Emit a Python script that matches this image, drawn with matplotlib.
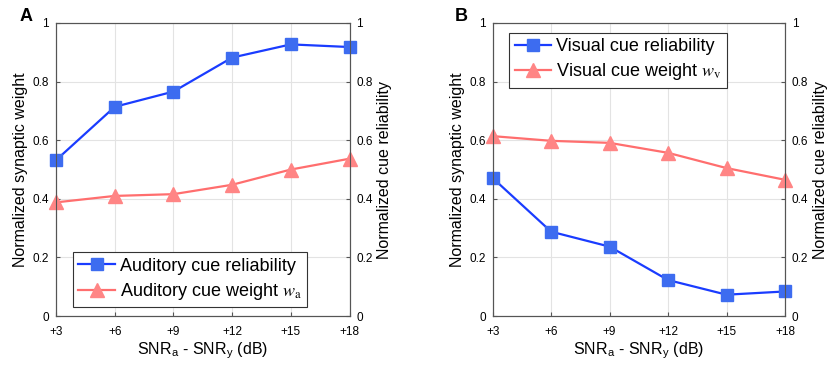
import numpy as np
import matplotlib
matplotlib.use("Agg")
import matplotlib.pyplot as plt

plt.rcParams['font.family'] = ['Liberation Sans', 'DejaVu Sans']
plt.rcParams['mathtext.fontset'] = 'stix'

snr_diff = [3, 6, 9, 12, 15, 18]
tick_labels = ['+3', '+6', '+9', '+12', '+15', '+18']

aud_reliability = [0.532, 0.714, 0.766, 0.882, 0.927, 0.918]
aud_weight = [0.388, 0.410, 0.416, 0.448, 0.500, 0.537]

vis_reliability = [0.471, 0.288, 0.237, 0.123, 0.073, 0.084]
vis_weight = [0.614, 0.598, 0.591, 0.557, 0.505, 0.465]

blue_line = '#1a3cff'
blue_face = '#3d6cf0'
red_line = '#ff6e6e'
red_face = '#ff8585'
spine_col = '#555555'

fig = plt.figure(figsize=(8.29, 3.65), dpi=100)


def panel(rect, rel, wt, rel_label, wt_label, legend_loc, letter, letter_x):
    ax = fig.add_axes(rect)
    ax.plot(snr_diff, rel, '-s', color=blue_line, lw=1.6, ms=9,
            mfc=blue_face, mec=blue_face, label=rel_label, clip_on=False, zorder=3)
    ax.plot(snr_diff, wt, '-^', color=red_line, lw=1.6, ms=10,
            mfc=red_face, mec=red_face, label=wt_label, clip_on=False, zorder=3)
    ax.set_xlim(3, 18)
    ax.set_ylim(0, 1)
    ax.set_xticks(snr_diff)
    ax.set_xticklabels(tick_labels)
    ax.set_yticks([0, 0.2, 0.4, 0.6, 0.8, 1])
    ax.set_yticklabels(['0', '0.2', '0.4', '0.6', '0.8', '1'])
    ax.grid(True, color='#e3e3e3', lw=0.8)
    ax.set_axisbelow(True)
    ax.tick_params(direction='in', labelsize=8.5, length=3, color=spine_col)
    ax.tick_params(axis='x', pad=7)
    ax.tick_params(axis='y', pad=5)
    for s in ax.spines.values():
        s.set_color(spine_col)
    ax.set_ylabel('Normalized synaptic weight', fontsize=11.5, labelpad=3)
    ax.set_xlabel(r'SNR$_\mathregular{a}$ - SNR$_\mathregular{y}$ (dB)', fontsize=11.5, labelpad=2)

    ax2 = ax.twinx()
    ax2.set_ylim(0, 1)
    ax2.set_yticks([0, 0.2, 0.4, 0.6, 0.8, 1])
    ax2.set_yticklabels(['0', '0.2', '0.4', '0.6', '0.8', '1'])
    ax2.tick_params(direction='in', labelsize=8.5, length=3, color=spine_col, pad=5)
    for s in ax2.spines.values():
        s.set_color(spine_col)
    ax2.set_ylabel('Normalized cue reliability', fontsize=11.5, labelpad=3)

    leg = ax.legend(loc=legend_loc, fontsize=13, fancybox=False, framealpha=1,
                    edgecolor='#333333', handlelength=2.0, handletextpad=0.3,
                    borderaxespad=0.0, labelspacing=0.35, borderpad=0.3)
    leg.get_frame().set_linewidth(0.8)
    leg.set_zorder(5)
    fig.text(letter_x, 0.955, letter, fontsize=13, fontweight='bold', va='center')
    return ax, leg


axA, legA = panel([0.0676, 0.134, 0.354, 0.803], aud_reliability, aud_weight,
                  'Auditory cue reliability', r'Auditory cue weight $w_{\mathrm{a}}$',
                  'lower left', 'A', 0.024)
legA.set_bbox_to_anchor((0.058, 0.03), transform=axA.transAxes)

axB, legB = panel([0.5943, 0.134, 0.3526, 0.803], vis_reliability, vis_weight,
                  'Visual cue reliability', r'Visual cue weight $w_{\mathrm{v}}$',
                  'upper left', 'B', 0.549)
legB.set_bbox_to_anchor((0.057, 0.967), transform=axB.transAxes)

fig.savefig('out.png', dpi=100)
